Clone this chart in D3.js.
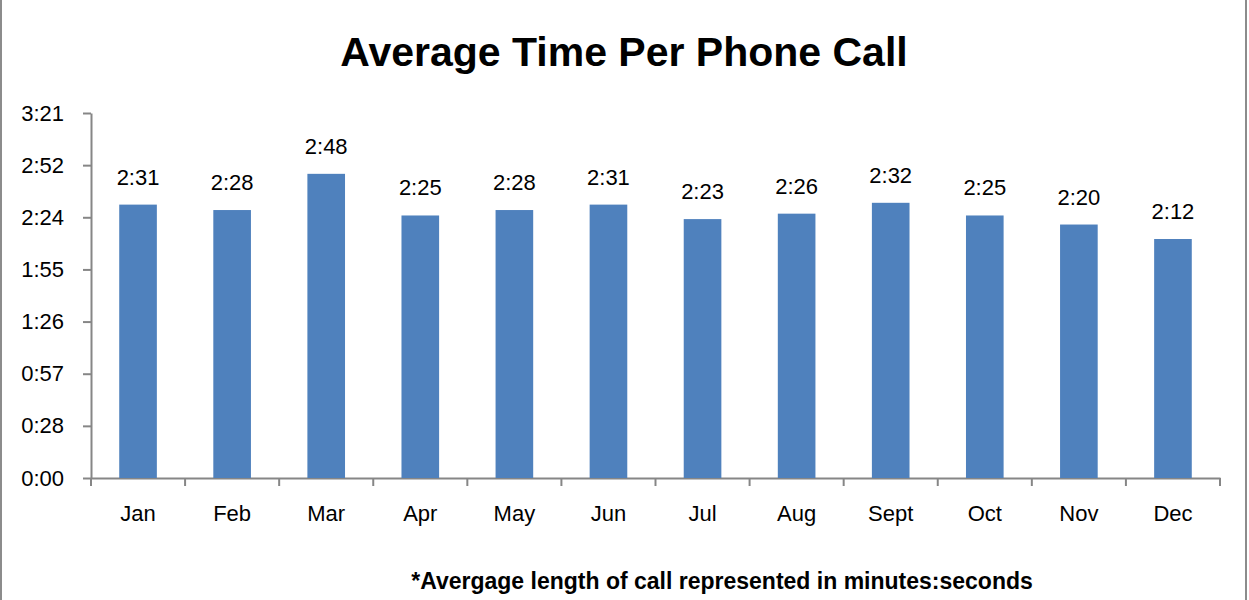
<!DOCTYPE html>
<style>
  body { margin: 0; background: #fff; }
  svg { font-family: "Liberation Sans", "DejaVu Sans", sans-serif; }
</style>
<svg width="1249" height="600"></svg>
<script src="https://d3js.org/d3.v7.min.js"></script>
<script>

// months and average call length in seconds
var months = ["Jan", "Feb", "Mar", "Apr", "May", "Jun", "Jul", "Aug", "Sept", "Oct", "Nov", "Dec"];
var seconds = [151, 148, 168, 145, 148, 151, 143, 146, 152, 145, 140, 132];
// excel-style ticks every 28.8 s, labels truncated to whole seconds
var tickSeconds = [0, 28.8, 57.6, 86.4, 115.2, 144, 172.8, 201.6];

var svg = d3.select("svg"),
  width = +svg.attr("width"),
  height = +svg.attr("height");

var margin = {top: 113, right: 29, bottom: 122, left: 91};

// outer frame
svg.append("rect")
  .attr("x", 1)
  .attr("y", -2)
  .attr("width", 1245)
  .attr("height", 605)
  .style("fill", "none")
  .style("stroke", "#8c8c8c")
  .style("stroke-width", 2);

function fmt(s) {
  var t = Math.floor(s + 1e-6);
  var m = Math.floor(t / 60), r = t % 60;
  return m + ":" + (r < 10 ? "0" : "") + r;
}

var x = d3.scaleBand()
  .domain(months)
  .range([margin.left, width - margin.right])
  .paddingInner(0.6)
  .paddingOuter(0.3);

var y = d3.scaleLinear()
  .domain([0, 201.6])
  .range([height - margin.bottom, margin.top]);

// y axis
var yAxis = svg.append("g")
  .attr("transform", "translate(" + margin.left + ",0)")
  .call(d3.axisLeft(y).tickValues(tickSeconds).tickFormat(fmt).tickSize(8).tickPadding(19).tickSizeOuter(0));

// x axis with ticks between categories
var xAxis = svg.append("g")
  .attr("transform", "translate(0," + (height - margin.bottom) + ")")
  .call(d3.axisBottom(x).tickSize(0).tickPadding(27));

var step = x.step();
xAxis.selectAll(".sep")
  .data(d3.range(months.length + 1))
  .enter().append("line")
  .attr("class", "sep")
  .attr("x1", function(i) { return margin.left + i * step; })
  .attr("x2", function(i) { return margin.left + i * step; })
  .attr("y1", 0)
  .attr("y2", 8);

svg.selectAll(".domain, .tick line, .sep")
  .style("stroke", "#868686")
  .style("stroke-width", 2);
svg.selectAll(".tick text")
  .style("font-size", "22px")
  .style("fill", "#000");

// bars
svg.selectAll(".bar")
  .data(seconds)
  .enter().append("rect")
  .attr("class", "bar")
  .attr("x", function(d, i) { return x(months[i]); })
  .attr("y", function(d) { return y(d); })
  .attr("width", x.bandwidth())
  .attr("height", function(d) { return y(0) - y(d); })
  .style("fill", "#4f81bd");

// value labels
svg.selectAll(".val")
  .data(seconds)
  .enter().append("text")
  .attr("class", "val")
  .attr("x", function(d, i) { return x(months[i]) + x.bandwidth() / 2; })
  .attr("y", function(d) { return y(d) - 20; })
  .attr("text-anchor", "middle")
  .style("font-size", "22px")
  .text(fmt);

svg.append("text")
  .attr("x", 624)
  .attr("y", 66)
  .attr("text-anchor", "middle")
  .style("font-size", "41px")
  .style("font-weight", "bold")
  .text("Average Time Per Phone Call");

svg.append("text")
  .attr("x", 722)
  .attr("y", 589)
  .attr("text-anchor", "middle")
  .style("font-size", "23px")
  .style("font-weight", "bold")
  .text("*Avergage length of call represented in minutes:seconds");

</script>
